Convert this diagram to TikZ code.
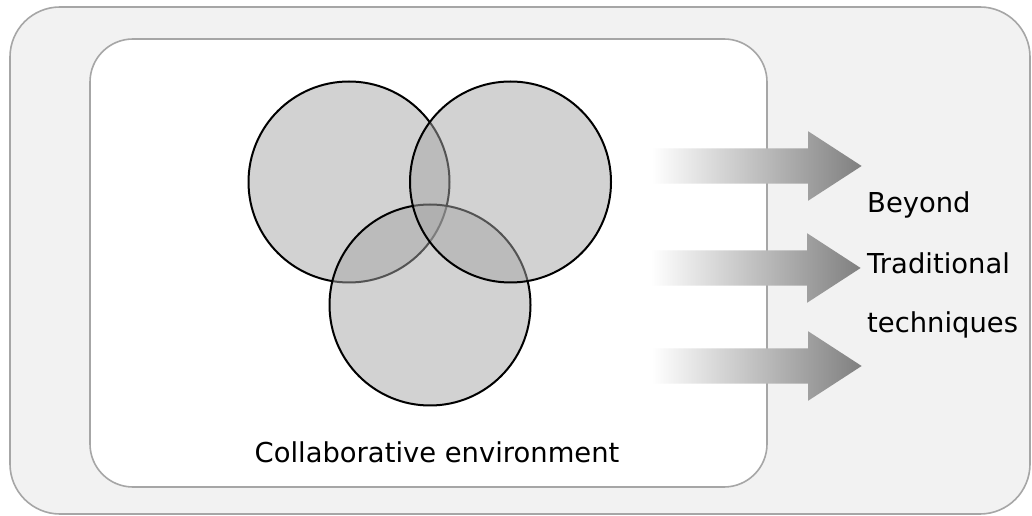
\documentclass[tikz,border=0pt]{standalone}
\usepackage{fontspec}
\setmainfont{DejaVu Sans}
\usepackage[x11names, svgnames, rgb]{xcolor}
\usetikzlibrary{shapes,arrows}

\begin{document}
\begin{tikzpicture}[line join=bevel,
  venn/.style={draw=black,line width=2bp,circle,minimum size=201bp,inner sep=0pt,fill=black!35,fill opacity=0.5},
  bigarrow/.style={single arrow,draw=none,inner xsep=0pt,inner ysep=17.5bp,minimum height=210bp,
    single arrow head extend=17bp,single arrow tip angle=66,left color=white,right color=black!50},
  label/.style={anchor=base west,inner sep=0pt,font=\fontsize{27.5}{32}\selectfont}]
%%
\useasboundingbox (0bp,0bp) rectangle (1032bp,516bp);
\draw [draw=black!35,line width=1.6bp,fill=black!5,rounded corners=50bp] (10bp,2bp) rectangle (1030bp,509bp);
\draw [draw=black!35,line width=1.6bp,fill=white,rounded corners=43bp] (90bp,29bp) rectangle (767bp,477bp);
%
\node (left) at (349.0bp,334.0bp) [venn] {};
  \node (bottom) at (430.0bp,211.0bp) [venn] {};
  \node (right) at (510.5bp,334.0bp) [venn] {};
  \node (env) at (437.0bp,53.0bp) [anchor=base,inner sep=0pt,font=\fontsize{27.5}{32}\selectfont] {Collaborative environment};
  \node (arrowA) at (743.0bp,350.0bp) [bigarrow] {};
  \node (arrowB) at (742.0bp,248.0bp) [bigarrow] {};
  \node (arrowC) at (743.0bp,150.0bp) [bigarrow] {};
  \node (beyond) at (867.0bp,303.0bp) [label] {Beyond};
  \node (traditional) at (867.0bp,242.0bp) [label] {Traditional};
  \node (techniques) at (867.0bp,183.0bp) [label] {techniques};
%
\end{tikzpicture}
\end{document}
